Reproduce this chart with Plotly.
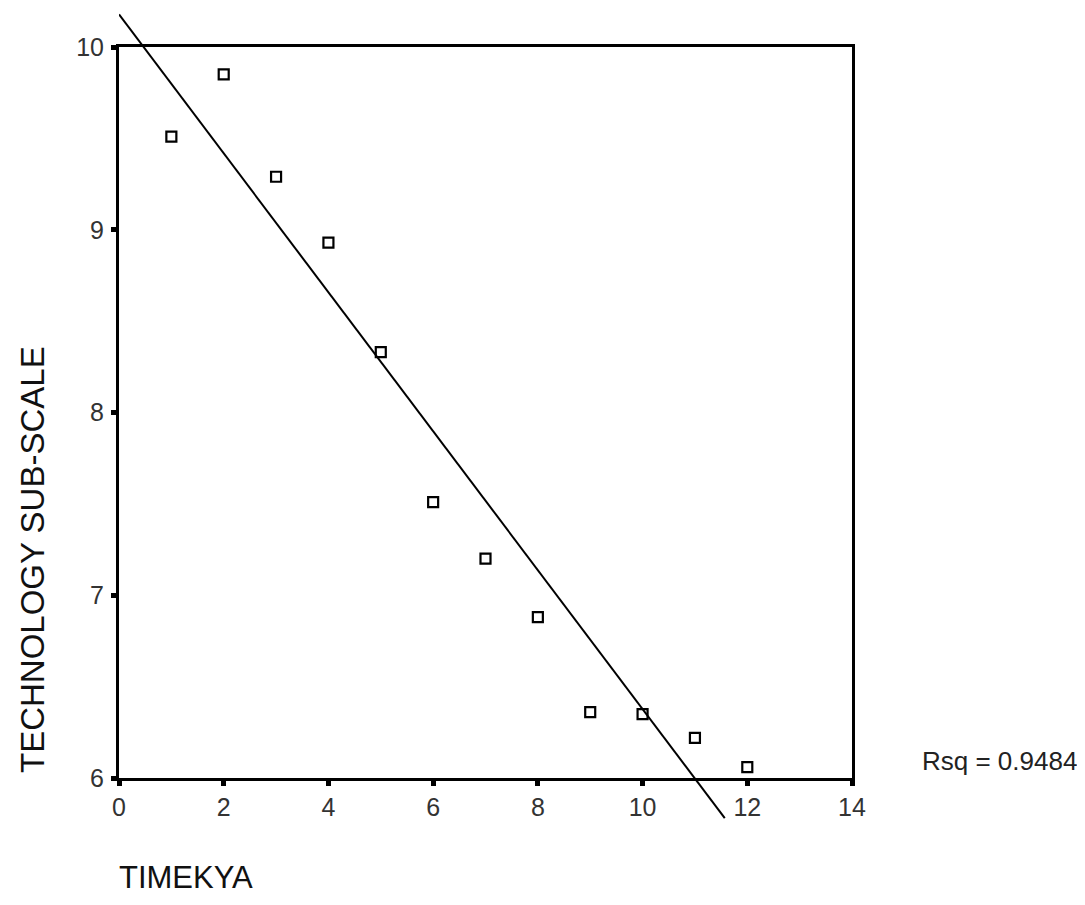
import numpy as np
import plotly.graph_objects as go

# Data
timekya = [1, 2, 3, 4, 5, 6, 7, 8, 9, 10, 11, 12]
tech_subscale = [9.51, 9.85, 9.29, 8.93, 8.33, 7.51, 7.20, 6.88, 6.36, 6.35, 6.22, 6.06]
fit_x_extent = [0.0, 11.57]
x_ticks = [0, 2, 4, 6, 8, 10, 12, 14]
y_ticks = [6, 7, 8, 9, 10]
rsq_label = "Rsq = 0.9484"

slope, intercept = np.polyfit(timekya, tech_subscale, 1)
fit_x = np.array(fit_x_extent)
fit_y = intercept + slope * fit_x

FONT = "Arial, Liberation Sans, sans-serif"

# Page has an 8px body margin; work in figure pixels = page pixels - 8
OFF = 8
W, H = 1085 - 2 * OFF, 905 - 2 * OFF
plot_left, plot_right = 119 - OFF, 852 - OFF
y_top_px, y_bot_px = 47 - OFF, 778 - OFF
T = 2
B = H - (812)
L = plot_left
R = W - plot_right
plot_h = H - T - B
plot_w = W - L - R
ydom = [(H - B - y_bot_px) / plot_h, (H - B - y_top_px) / plot_h]
px_per_unit = (y_bot_px - y_top_px) / (y_ticks[-1] - y_ticks[0])
y2_range = [y_ticks[0] - (H - B - y_bot_px) / px_per_unit,
            y_ticks[-1] + (y_top_px - T) / px_per_unit]


def px(xp):
    return (xp - OFF - L) / plot_w


def py(yp):
    return (H - B - (yp - OFF)) / plot_h


fig = go.Figure()
fig.add_trace(go.Scatter(
    x=timekya, y=tech_subscale, mode="markers",
    marker=dict(symbol="square-open", size=10, color="black", line=dict(width=2.2, color="black")),
    xaxis="x", yaxis="y", showlegend=False, cliponaxis=False,
))
fig.add_trace(go.Scatter(
    x=fit_x, y=fit_y, mode="lines",
    line=dict(color="black", width=2),
    xaxis="x2", yaxis="y2", showlegend=False,
))

axis_common = dict(
    ticks="outside", ticklen=5, tickwidth=5, tickcolor="black",
    showline=True, linecolor="black", linewidth=3, mirror=True,
    showgrid=False, zeroline=False, automargin=False,
    tickfont=dict(size=25, color="#333", family=FONT),
)

fig.update_layout(
    width=W, height=H,
    margin=dict(l=L, r=R, t=T, b=B, autoexpand=False),
    paper_bgcolor="white",
    plot_bgcolor="rgba(0,0,0,0)",
    font=dict(family=FONT, color="#222"),
    xaxis=dict(
        domain=[0, 1], range=[x_ticks[0], x_ticks[-1]], anchor="y",
        tickmode="array", tickvals=x_ticks, ticktext=[str(v) for v in x_ticks],
        **axis_common,
    ),
    yaxis=dict(
        domain=ydom, range=[y_ticks[0], y_ticks[-1]], anchor="x",
        tickmode="array", tickvals=y_ticks, ticktext=[str(v) for v in y_ticks],
        ticklabelstandoff=2,
        **axis_common,
    ),
    xaxis2=dict(domain=[0, 1], range=[x_ticks[0], x_ticks[-1]], anchor="y2",
                visible=False, automargin=False),
    yaxis2=dict(domain=[0, 1], range=y2_range, anchor="x2",
                visible=False, automargin=False),
    annotations=[
        dict(text="TECHNOLOGY SUB-SCALE", textangle=-90, xref="paper", yref="paper",
             x=px(32), y=py(560),
             xanchor="center", yanchor="middle", showarrow=False,
             font=dict(size=33, color="#111", family=FONT)),
        dict(text="TIMEKYA", xref="paper", yref="paper",
             x=px(117), y=py(878),
             xanchor="left", yanchor="middle", showarrow=False,
             font=dict(size=31, color="#111", family=FONT)),
        dict(text=rsq_label, xref="paper", yref="paper",
             x=px(920), y=py(761),
             xanchor="left", yanchor="middle", showarrow=False,
             font=dict(size=26, color="#222", family=FONT)),
    ],
)

fig.write_html("out.html")
